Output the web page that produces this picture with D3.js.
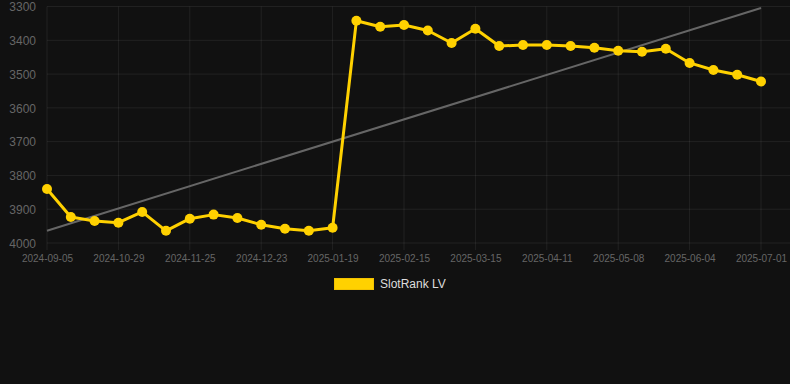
<!DOCTYPE html>
<html><head><meta charset="utf-8">
<script src="https://cdn.jsdelivr.net/npm/d3@7/dist/d3.min.js"></script>
<style>html,body{margin:0;padding:0;background:#111111;}svg{display:block;}</style>
</head><body>
<svg id="c" width="790" height="384"></svg>
<script>
const categories = ["2024-09-05","2024-10-11","2024-10-20","2024-10-29","2024-11-07","2024-11-16","2024-11-25","2024-12-04","2024-12-13","2024-12-23","2025-01-01","2025-01-10","2025-01-19","2025-01-28","2025-02-06","2025-02-15","2025-02-24","2025-03-06","2025-03-15","2025-03-24","2025-04-02","2025-04-11","2025-04-20","2025-04-29","2025-05-08","2025-05-17","2025-05-26","2025-06-04","2025-06-13","2025-06-22","2025-07-01"];
const rankValues = [3840,3923,3935,3940,3908,3964,3928,3916,3926,3946,3958,3964,3955,3342,3360,3355,3371,3408,3366,3417,3414,3414,3417,3422,3431,3434,3425,3467,3488,3502,3522];
const yTicks = [3300,3400,3500,3600,3700,3800,3900,4000];
const seriesName = "SlotRank LV";

(function () {
const svg = d3.select("#c");
const W = 790;
const pLeft = 47, pRight = 761, pTop = 6.5, pBottom = 243;

const x = d3.scalePoint().domain(categories).range([pLeft, pRight]);
const y = d3.scaleLinear().domain([3300, 4000]).range([pTop, pBottom]);

const labelCats = categories.filter((d, i) => i % 3 === 0);

// grid
const g = svg.append("g");
g.selectAll("line.h").data(yTicks).enter().append("line")
  .attr("x1", pLeft).attr("x2", W).attr("y1", d => y(d)).attr("y2", d => y(d))
  .attr("stroke", "rgba(255,255,255,0.07)").attr("stroke-width", 1);
g.selectAll("line.v").data(labelCats).enter().append("line")
  .attr("x1", d => x(d)).attr("x2", d => x(d)).attr("y1", pTop).attr("y2", pBottom + 7)
  .attr("stroke", "rgba(255,255,255,0.07)").attr("stroke-width", 1);

// y axis
const yAxis = d3.axisLeft(y).tickValues(yTicks).tickSize(0).tickPadding(0).tickFormat(d3.format("d"));
const ya = svg.append("g").attr("transform", "translate(36,0)").call(yAxis);
ya.select(".domain").remove();
ya.selectAll("text").attr("fill", "#666").attr("font-family", "Liberation Sans, Arial, sans-serif").attr("font-size", 12).attr("dy", "0.35em");

// x axis
const xAxis = d3.axisBottom(x).tickValues(labelCats).tickSize(0).tickPadding(0);
const xa = svg.append("g").attr("transform", "translate(0," + (pBottom + 12) + ")").call(xAxis);
xa.select(".domain").remove();
xa.selectAll("text").attr("fill", "#666").attr("font-family", "Liberation Sans, Arial, sans-serif").attr("font-size", 10).attr("dy", "0.71em");

// trend line (least squares)
const n = rankValues.length;
const xm = d3.mean(d3.range(n)), ym = d3.mean(rankValues);
let sxy = 0, sxx = 0;
rankValues.forEach((v, i) => { sxy += (i - xm) * (v - ym); sxx += (i - xm) * (i - xm); });
const slope = sxy / sxx, icpt = ym - slope * xm;
svg.append("line")
  .attr("x1", x(categories[0])).attr("y1", y(icpt))
  .attr("x2", x(categories[n - 1])).attr("y2", y(icpt + slope * (n - 1)))
  .attr("stroke", "#666").attr("stroke-width", 2);

// series
const color = "#FFD100";
const line = d3.line().x((d, i) => x(categories[i])).y(d => y(d));
svg.append("path").datum(rankValues).attr("d", line)
  .attr("fill", "none").attr("stroke", color).attr("stroke-width", 3).attr("stroke-linejoin", "round");
svg.selectAll("circle.p").data(rankValues).enter().append("circle")
  .attr("cx", (d, i) => x(categories[i])).attr("cy", d => y(d)).attr("r", 5).attr("fill", color);

// legend
svg.append("rect").attr("x", 334.5).attr("y", 278.5).attr("width", 39).attr("height", 11)
  .attr("fill", color).attr("stroke", "#f2c200").attr("stroke-width", 1);
svg.append("text").attr("x", 380).attr("y", 284).attr("dy", "0.35em")
  .attr("fill", "#ddd").attr("font-family", "Liberation Sans, Arial, sans-serif").attr("font-size", 12)
  .text(seriesName);
})();
</script>
</body></html>
